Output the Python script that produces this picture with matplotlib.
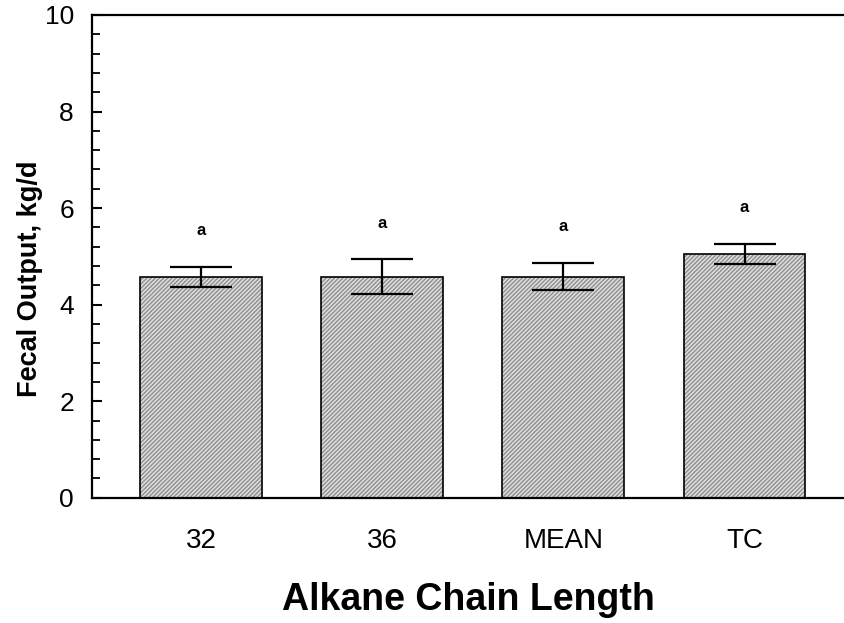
import numpy as np
import matplotlib
matplotlib.use("Agg")
import matplotlib.pyplot as plt
from matplotlib.ticker import MultipleLocator

plt.rcParams['font.family'] = ['Liberation Sans', 'DejaVu Sans']
plt.rcParams['hatch.linewidth'] = 0.9

# data
groups = ['32', '36', 'MEAN', 'TC']
fecal_output = [4.58, 4.58, 4.58, 5.05]
sem = [0.21, 0.36, 0.28, 0.21]
letters = ['a', 'a', 'a', 'a']

x = np.arange(len(groups))
width = 0.673

fig = plt.figure(figsize=(8.44, 6.23), dpi=100)
ax = fig.add_axes([0.109, 0.201, 0.891, 0.775])

# hatched fill, then a black outline on top
ax.bar(x, fecal_output, width, color='#dcdcdc', edgecolor='#8a8a8a',
       hatch='////////', linewidth=0, zorder=2)
ax.bar(x, fecal_output, width, fill=False, edgecolor='black',
       linewidth=1.2, zorder=3)
ax.errorbar(x, fecal_output, yerr=sem, fmt='none', ecolor='black',
            elinewidth=1.6, capsize=22, capthick=1.6, zorder=4)

for xi, yi, ei, s in zip(x, fecal_output, sem, letters):
    ax.text(xi, yi + ei + 0.75, s, ha='center', va='center',
            fontsize=12, fontweight='bold')

ax.set_xlim(-0.6015, 3.549)
ax.set_ylim(0, 10)
ax.set_xticks(x)
ax.set_xticklabels(groups, fontsize=20)
ax.yaxis.set_major_locator(MultipleLocator(2))
ax.yaxis.set_minor_locator(MultipleLocator(0.4))
ax.tick_params(axis='y', which='major', direction='in', length=7,
               width=1.5, labelsize=19, pad=13)
ax.tick_params(axis='y', which='minor', direction='in', length=5.5, width=1.3)
ax.tick_params(axis='x', length=0, pad=22)

ax.spines['right'].set_visible(False)
for side in ['left', 'bottom', 'top']:
    ax.spines[side].set_linewidth(1.6)

ax.set_ylabel('Fecal Output, kg/d', fontsize=19.5, fontweight='bold')
ax.yaxis.set_label_coords(-0.065, 0.453)
ax.set_xlabel('Alkane Chain Length', fontsize=27, fontweight='bold', labelpad=20)

fig.savefig('out.png', dpi=100)
